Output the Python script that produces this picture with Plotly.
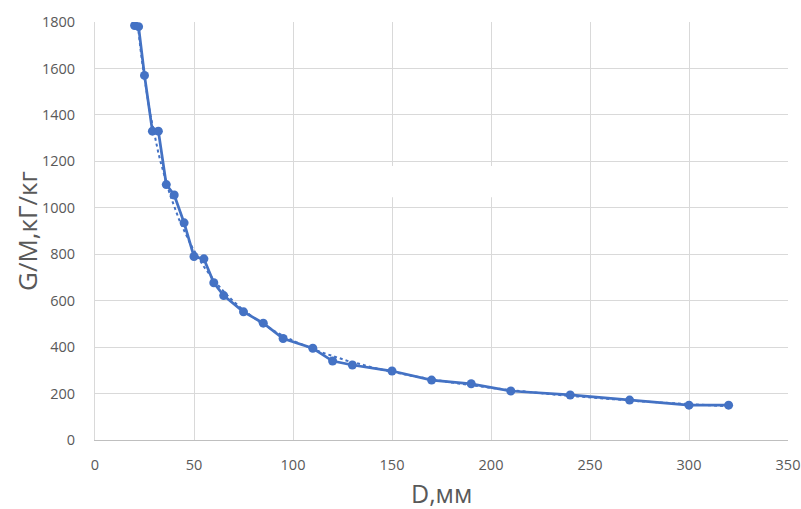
import numpy as np
import plotly.graph_objects as go

D_mm = [20, 22, 25, 29, 32, 36, 40, 45, 50, 55, 60, 65, 75, 85, 95, 110, 120, 130,
        150, 170, 190, 210, 240, 270, 300, 320]
G_M = [1785, 1780, 1570, 1330, 1330, 1100, 1055, 935, 790, 780, 677, 622, 552, 503,
       437, 395, 340, 323, 297, 258, 242, 211, 194, 172, 150, 150]

x_ticks = [0, 50, 100, 150, 200, 250, 300, 350]
y_ticks = [0, 200, 400, 600, 800, 1000, 1200, 1400, 1600, 1800]

x_title = "D,мм"
y_title = "G/M,кГ/кг"

COLOR = "#4472C4"
GRID = "#d9d9d9"
TXT = "#595959"

# power trendline (as in the spreadsheet chart), fitted in log space
b, ln_a = np.polyfit(np.log(D_mm), np.log(G_M), 1)
xt = np.linspace(min(D_mm), max(D_mm), 300)
yt = np.exp(ln_a) * xt ** b

fig = go.Figure()
fig.add_trace(go.Scatter(x=xt, y=yt, mode="lines",
                         line=dict(color=COLOR, width=2, dash="dot"),
                         hoverinfo="skip", showlegend=False))
fig.add_trace(go.Scatter(x=D_mm, y=G_M, mode="lines+markers",
                         line=dict(color=COLOR, width=2.75),
                         marker=dict(color=COLOR, size=9),
                         showlegend=False))

fig.add_shape(type="rect", x0=125, x1=230, y0=1045, y1=1180,
              fillcolor="white", line=dict(width=0), layer="between")

fig.add_annotation(text=x_title, xref="paper", yref="paper", x=0.5, y=0,
                   yshift=-53, xanchor="center", yanchor="middle", showarrow=False,
                   font=dict(size=25, color=TXT))
fig.add_annotation(text=y_title, xref="paper", yref="paper", x=0, y=0.5,
                   xshift=-68, xanchor="center", yanchor="middle", showarrow=False,
                   textangle=-90, font=dict(size=26, color=TXT))

fig.update_layout(
    width=801, height=509,
    margin=dict(l=95, r=13, t=22, b=69, autoexpand=False),
    paper_bgcolor="white", plot_bgcolor="white",
    font=dict(family="Open Sans", color=TXT),
)
fig.update_xaxes(range=[0, 350], tickvals=x_ticks, ticktext=[str(v) for v in x_ticks],
                 showgrid=True, gridcolor=GRID, gridwidth=1,
                 showline=True, linecolor="#bfbfbf", linewidth=1,
                 zeroline=False, ticks="", ticklabelstandoff=12, automargin=False,
                 ticklabeloverflow="allow",
                 tickfont=dict(size=14.5, color=TXT))
fig.update_yaxes(range=[0, 1800], tickvals=y_ticks, ticktext=[str(v) for v in y_ticks],
                 showgrid=True, gridcolor=GRID, gridwidth=1,
                 showline=True, linecolor=GRID, linewidth=1,
                 zeroline=False, ticks="", ticklabelstandoff=16, automargin=False,
                 ticklabeloverflow="allow",
                 tickfont=dict(size=14.5, color=TXT))

# remove the page body's default margin so the figure fills the window exactly
fig.write_html("out.html",
               config={"displayModeBar": False},
               post_script="document.body.style.margin='0';document.body.style.overflow='hidden';")
